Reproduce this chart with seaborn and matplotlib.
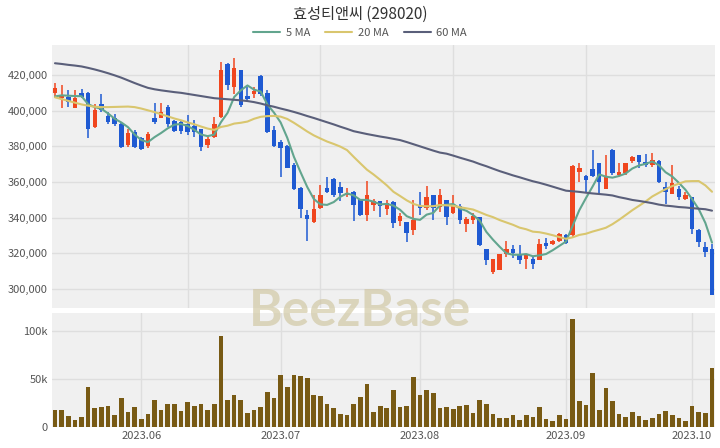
import numpy as np
import pandas as pd
import matplotlib
matplotlib.use("Agg")
import matplotlib.pyplot as plt
import seaborn as sns
from matplotlib.lines import Line2D
from matplotlib.ticker import FuncFormatter

# ---------------- data ----------------
title = "효성티앤씨 (298020)"
holidays = ["2023-05-29", "2023-06-06", "2023-08-15", "2023-09-28",
            "2023-09-29", "2023-10-02", "2023-10-03", "2023-10-09"]
dates = [d for d in pd.bdate_range("2023-05-12", "2023-10-10")
         if d.strftime("%Y-%m-%d") not in holidays]

opens = [409.7, 406.9, 407.8, 401.6, 409.7, 409.7, 390.9, 404.0, 396.9, 396.0,
         392.8, 381.0, 387.8, 384.4, 380.3, 395.7, 396.0, 402.2, 394.3, 393.8,
         392.8, 391.5, 389.6, 381.0, 385.3, 396.6, 426.0, 413.4, 422.8, 408.4,
         409.1, 419.6, 409.7, 389.1, 382.2, 380.3, 369.4, 356.7, 341.3, 337.6,
         345.4, 356.7, 361.9, 357.2, 352.6, 354.4, 350.3, 341.7, 347.3, 349.2,
         345.1, 348.8, 338.2, 337.6, 332.9, 347.0, 345.7, 352.6, 346.0, 350.1,
         342.7, 346.4, 336.7, 338.5, 340.4, 322.6, 309.5, 310.8, 319.8, 322.6,
         319.8, 317.0, 317.0, 316.4, 326.0, 325.4, 326.7, 330.1, 330.1, 365.7,
         363.4, 367.2, 370.4, 356.3, 377.9, 363.8, 364.8, 371.7, 375.0, 371.3,
         369.4, 371.9, 357.3, 353.5, 356.3, 350.7, 351.6, 333.3, 323.5, 322.6]
highs = [415.3, 414.4, 411.6, 411.6, 411.9, 410.6, 404.0, 409.1, 399.4, 397.9,
         393.4, 389.7, 389.1, 385.3, 387.8, 404.1, 404.1, 403.1, 394.7, 394.7,
         397.5, 394.7, 390.0, 385.3, 396.6, 427.5, 426.6, 429.4, 422.8, 413.4,
         413.4, 420.0, 411.6, 391.5, 383.5, 381.0, 370.4, 357.2, 344.1, 352.9,
         358.2, 362.9, 362.3, 360.1, 356.7, 354.8, 350.7, 360.4, 350.7, 349.4,
         350.1, 349.4, 342.7, 337.6, 349.8, 354.5, 357.6, 352.6, 355.8, 350.1,
         352.6, 347.9, 340.4, 342.7, 340.4, 322.6, 317.0, 319.8, 326.9, 324.5,
         324.5, 319.8, 318.3, 328.2, 328.7, 327.7, 331.6, 331.0, 369.4, 370.4,
         364.2, 377.9, 370.4, 375.4, 378.4, 370.4, 370.9, 374.7, 375.4, 375.6,
         376.4, 372.2, 360.1, 369.4, 357.6, 354.4, 351.6, 333.8, 326.4, 325.4]
lows = [407.3, 401.3, 402.2, 401.3, 406.9, 384.8, 390.4, 399.4, 392.3, 391.5,
        379.2, 379.7, 379.2, 377.9, 379.2, 392.8, 395.7, 390.9, 387.8, 387.0,
        386.3, 385.3, 377.3, 379.2, 384.4, 395.7, 411.6, 409.1, 402.2, 405.9,
        406.9, 408.4, 387.2, 379.7, 362.9, 367.6, 355.4, 339.8, 326.7, 337.2,
        345.1, 354.1, 351.6, 349.2, 351.6, 338.0, 341.0, 338.0, 343.6, 340.4,
        341.3, 334.4, 335.2, 326.4, 330.1, 341.3, 344.2, 338.5, 343.2, 335.7,
        342.3, 336.3, 332.0, 336.3, 323.9, 313.2, 308.6, 310.4, 317.9, 317.6,
        314.2, 311.4, 311.4, 316.0, 322.3, 324.9, 326.4, 325.4, 329.2, 360.1,
        354.5, 362.9, 353.5, 355.9, 364.2, 363.4, 364.2, 370.9, 367.6, 368.5,
        368.5, 359.5, 347.9, 353.5, 349.8, 350.1, 330.7, 323.5, 317.9, 296.4]
closes = [412.5, 408.4, 405.0, 406.9, 407.8, 390.0, 400.3, 400.3, 393.8, 392.8,
          379.7, 387.2, 379.7, 378.4, 386.7, 393.8, 399.0, 392.8, 388.5, 388.5,
          388.2, 388.2, 379.7, 384.0, 392.8, 422.8, 414.4, 424.1, 403.1, 406.3,
          411.0, 409.1, 387.8, 380.3, 378.8, 367.9, 355.9, 344.7, 339.1, 344.7,
          352.9, 354.4, 352.6, 354.1, 354.1, 347.3, 341.7, 352.6, 349.2, 346.5,
          348.5, 337.0, 340.8, 331.4, 338.9, 345.7, 351.7, 345.7, 352.6, 340.4,
          347.9, 338.9, 339.5, 340.8, 324.5, 316.4, 317.0, 319.8, 322.6, 320.2,
          316.4, 318.9, 313.8, 325.0, 324.0, 327.1, 331.0, 326.0, 369.1, 367.6,
          361.0, 363.4, 360.1, 362.9, 364.8, 365.7, 370.4, 374.1, 371.3, 369.4,
          372.2, 360.1, 354.4, 359.5, 351.6, 352.6, 333.8, 326.4, 320.7, 296.4]
volumes = [18.2, 17.5, 11.2, 7.7, 10.5, 41.3, 19.9, 21.0, 21.7, 12.2,
           30.4, 15.4, 21.0, 8.7, 14.0, 28.0, 17.5, 23.8, 23.8, 16.8,
           26.2, 22.4, 24.5, 17.5, 23.8, 95.1, 28.7, 33.2, 28.7, 14.7,
           17.5, 21.0, 36.7, 30.4, 54.6, 41.3, 53.9, 52.8, 50.7, 33.2,
           32.5, 24.5, 20.3, 14.0, 12.9, 24.5, 31.5, 44.4, 15.7, 22.0,
           20.3, 38.5, 21.0, 21.7, 52.5, 33.9, 38.5, 35.0, 19.9, 21.0,
           19.2, 21.7, 22.7, 14.7, 28.7, 24.1, 14.0, 9.8, 9.8, 12.2,
           7.0, 12.9, 10.5, 21.0, 8.0, 5.9, 12.9, 8.7, 112.6, 26.9,
           23.4, 56.0, 17.5, 40.2, 26.9, 13.3, 10.5, 15.7, 11.2, 7.7,
           9.8, 13.3, 16.8, 12.9, 9.4, 6.3, 21.7, 15.7, 14.3, 61.9]
# moving-average values shown for days whose window reaches before the first candle
ma5_head = [408.0, 408.6, 408.4, 408.2]
ma20_head = [407.5, 406.5, 405.5, 404.5, 403.5, 402.8, 402.2, 402.0, 402.0, 402.1,
             402.2, 402.3, 402.0, 401.2, 400.2, 399.2, 398.0, 396.8, 395.6]
ma60_head = [426.6, 426.2, 425.7, 425.3, 424.8, 424.0, 423.1, 422.1, 421.0, 419.8,
             418.5, 417.0, 415.5, 414.1, 412.8, 412.0, 411.4, 410.9, 410.4, 410.0,
             409.4, 408.8, 408.2, 407.6, 407.0, 406.7, 406.4, 406.1, 405.8, 405.4,
             404.8, 404.0, 403.0, 402.2, 401.2, 400.3, 399.3, 398.2, 397.0, 395.9,
             394.7, 393.5, 392.3, 391.0, 389.8, 388.5, 387.7, 386.9, 386.2, 385.5,
             384.9, 384.2, 383.5, 382.4, 381.2, 380.0, 378.8, 377.6, 376.5]

# ---------------- prepare ----------------
K = 1000.0
df = pd.DataFrame({"date": dates,
                   "open": np.array(opens) * K, "high": np.array(highs) * K,
                   "low": np.array(lows) * K, "close": np.array(closes) * K,
                   "volume": np.array(volumes) * K})
df["idx"] = np.arange(len(df))


def moving(head, window):
    roll = df["close"].rolling(window).mean().to_numpy()
    out = roll.copy()
    out[:len(head)] = np.array(head) * K
    return out


df["ma5"] = moving(ma5_head, 5)
df["ma20"] = moving(ma20_head, 20)
df["ma60"] = moving(ma60_head, 60)

UP = "#f0461e"
DOWN = "#1f5ad2"
C5, C20, C60 = "#62a58e", "#d9c66e", "#5a5f7a"
VOLC = "#785a14"
BG = "#f0f0f0"
GRID = "#dedede"

sns.set_theme(style="white")
plt.rcParams["font.family"] = ["Noto Sans CJK KR", "DejaVu Sans"]

fig = plt.figure(figsize=(7.2, 4.48), dpi=100)
W, H = 720.0, 448.0
ax = fig.add_axes([52 / W, 1 - 308 / H, 663 / W, (308 - 45) / H])
axv = fig.add_axes([52 / W, 1 - 427 / H, 663 / W, (427 - 313) / H])

for a in (ax, axv):
    a.set_facecolor(BG)
    for s in a.spines.values():
        s.set_visible(False)
    a.tick_params(length=0, labelsize=8, labelcolor="#555555", pad=3)
    a.set_axisbelow(True)

# ---- candles ----
up = df["close"] >= df["open"]
colors = np.where(up, UP, DOWN)
ax.vlines(df["idx"], df["low"], df["high"], colors=colors, lw=1.1, zorder=2)
body_lo = np.minimum(df["open"], df["close"])
body_h = np.maximum(np.abs(df["close"] - df["open"]), 700)
ax.bar(df["idx"], body_h, bottom=body_lo, width=0.68, color=colors,
       linewidth=0, zorder=3)

# ---- moving averages ----
for col, c in (("ma5", C5), ("ma20", C20), ("ma60", C60)):
    sns.lineplot(data=df, x="idx", y=col, ax=ax, color=c, lw=1.5,
                 legend=False, zorder=4)

ax.set_xlim(-0.45, 99.45)
ax.set_ylim(289341, 436830)
ax.set_yticks(np.arange(300000, 420001, 20000))
ax.yaxis.set_major_formatter(FuncFormatter(lambda v, p: f"{int(v):,}"))
ax.set_xticks([20, 40, 60, 80])
ax.set_xticklabels([])
ax.grid(True, color=GRID, lw=1)
ax.set_xlabel("")
ax.set_ylabel("")

# ---- volume ----
sns.barplot(data=df, x="idx", y="volume", native_scale=True, color=VOLC,
            saturation=1, width=0.7, linewidth=0, ax=axv, zorder=3)
axv.set_xlim(-0.45, 99.45)
axv.set_ylim(0, 119000)
axv.set_yticks([0, 50000, 100000])
axv.yaxis.set_major_formatter(
    FuncFormatter(lambda v, p: "0" if v == 0 else f"{int(v / 1000)}k"))
month = df["date"].dt.to_period("M")
first_idx = df.index[month != month.shift(1)][1:]
axv.set_xticks(list(first_idx))
axv.set_xticklabels([df["date"][i].strftime("%Y.%m") for i in first_idx])
axv.grid(True, color=GRID, lw=1)
axv.set_xlabel("")
axv.set_ylabel("")

# ---- title, legend, watermark ----
fig.text(0.5, 1 - 14 / H, title, ha="center", va="center", fontsize=11,
         color="#333333")
handles = [Line2D([], [], color=C5, lw=1.5), Line2D([], [], color=C20, lw=1.5),
           Line2D([], [], color=C60, lw=1.5)]
fig.legend(handles, ["5 MA", "20 MA", "60 MA"], loc="center",
           bbox_to_anchor=(0.5, 1 - 33 / H), ncol=3, frameon=False,
           fontsize=8, handlelength=2.4, columnspacing=1.4, handletextpad=0.5,
           labelcolor="#555555")
fig.text(0.5, 1 - 311 / H, "BeezBase", ha="center", va="center",
         fontsize=37, fontweight="bold", color="#cfc59f", alpha=0.65,
         family=["Lato", "DejaVu Sans"], zorder=10)

fig.savefig("out.png", dpi=100)
